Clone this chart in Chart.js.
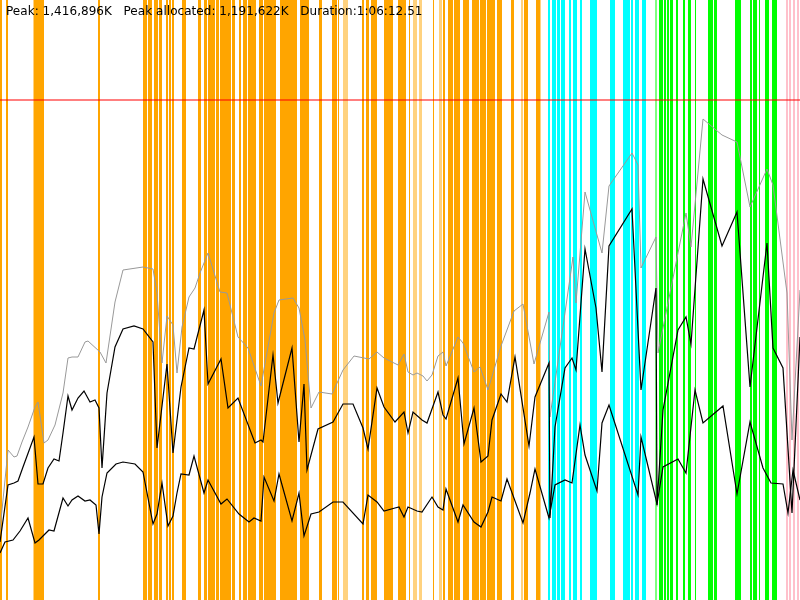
<!DOCTYPE html>
<html>
<head>
<meta charset="utf-8">
<script src="https://cdn.jsdelivr.net/npm/chart.js@4/dist/chart.umd.min.js"></script>
<style>
  body { margin: 0; background: #fff; }
  #wrap { position: relative; width: 800px; height: 600px; }
  #stats {
    position: absolute; left: 6px; top: 4px;
    font: 12px "DejaVu Sans", sans-serif; color: #000;
    white-space: pre; letter-spacing: 0.04px;
  }
</style>
</head>
<body>
<div id="wrap">
  <canvas id="chart" width="800" height="600"></canvas>
  <div id="stats">Peak: 1,416,896K   Peak allocated: 1,191,622K   Duration:1:06:12.51</div>
</div>
<script>
// time runs 0..800, memory level 0..600
const heapSize = [[0,70],[8,150],[14,143],[17,144],[22,158],[28,173],[35,193],[38,198],[44,157],[48,160],[55,175],[63,207],[68,242],[72,243],[78,243],[85,258],[88,259],[100,248],[106,237],[115,298],[123,330],[143,333],[153,331],[157,307],[162,237],[167,284],[173,275],[177,227],[182,273],[189,303],[195,312],[200,327],[208,347],[220,308],[227,307],[238,263],[248,252],[261,214],[274,287],[279,300],[293,302],[299,292],[305,260],[311,192],[319,208],[332,206],[343,230],[354,244],[369,241],[377,248],[384,242],[398,235],[404,246],[408,228],[413,225],[417,227],[423,224],[427,219],[432,225],[438,244],[443,248],[446,234],[458,263],[463,257],[474,228],[480,233],[488,210],[501,254],[514,289],[523,296],[534,236],[549,288],[550,183],[573,343],[576,297],[585,408],[602,347],[609,414],[632,447],[638,435],[641,332],[656,363],[658,247],[686,387],[691,353],[703,481],[722,465],[737,458],[750,393],[767,431],[773,415],[787,307],[792,160],[800,310]];

const allocated = [[0,58],[8,115],[14,117],[18,119],[23,133],[34,163],[38,116],[43,116],[48,132],[54,141],[59,139],[63,167],[68,204],[72,190],[78,202],[84,209],[90,198],[95,200],[99,192],[102,132],[107,207],[115,253],[123,271],[134,274],[143,271],[153,258],[157,152],[167,236],[173,147],[181,213],[189,252],[194,251],[204,290],[208,216],[221,241],[228,192],[238,202],[255,157],[261,160],[263,158],[273,245],[278,197],[292,252],[299,158],[304,216],[307,130],[318,171],[333,178],[343,196],[353,196],[363,172],[368,151],[377,212],[384,193],[395,178],[404,188],[408,167],[413,188],[422,180],[427,177],[438,208],[443,185],[446,181],[458,222],[464,156],[474,192],[481,138],[488,144],[492,180],[501,206],[507,198],[515,243],[529,154],[535,203],[549,237],[550,82],[555,173],[565,232],[572,242],[576,230],[585,351],[596,292],[602,228],[609,354],[632,391],[641,210],[656,312],[657,95],[663,190],[678,270],[686,283],[691,256],[703,421],[722,354],[737,388],[750,213],[767,357],[773,252],[783,232],[792,87],[800,263]];

const live = [[0,47],[5,58],[13,60],[20,69],[28,82],[35,57],[39,60],[49,70],[54,69],[63,102],[68,94],[72,100],[78,104],[85,99],[90,100],[96,95],[99,66],[102,103],[107,127],[116,136],[123,138],[135,136],[143,128],[153,76],[157,86],[162,117],[168,74],[173,84],[177,107],[181,126],[189,125],[194,144],[204,107],[208,120],[221,96],[227,101],[239,86],[249,78],[254,82],[261,79],[264,123],[274,99],[279,126],[292,79],[299,107],[304,64],[311,86],[319,88],[333,98],[343,98],[363,76],[368,105],[377,98],[384,89],[395,92],[399,93],[404,83],[408,93],[417,89],[422,88],[432,103],[438,93],[443,90],[446,111],[458,78],[463,95],[474,78],[481,73],[488,88],[492,103],[501,99],[507,121],[523,77],[530,107],[535,131],[549,82],[555,115],[565,120],[572,117],[580,175],[585,145],[597,109],[602,177],[609,195],[638,105],[641,163],[657,96],[663,133],[678,141],[686,127],[695,210],[703,177],[723,194],[737,106],[750,178],[763,132],[771,117],[783,116],[788,87],[793,130],[800,100]];

const limitLevel = 500;

// phases along the time axis, [start, end)
const orangeSpans = [[0,2],[6,8],[34,44],[98,100],[143,147],[148,152],[154,158],[159,162],[166,168],[169,171],[172,174],[182,186],[198,201],[204,207],[208,215],[216,219],[220,231],[232,235],[239,241],[243,247],[248,256],[259,263],[264,276],[280,297],[300,309],[319,322],[332,337],[338,339],[362,364],[366,369],[371,377],[384,393],[398,406],[409,410],[433,434],[443,445],[448,453],[454,460],[463,469],[472,479],[480,486],[487,495],[497,502],[511,514],[524,528],[536,540]];
const orangeFaintSpans = [[33,34],[343,348],[413,417],[419,422],[439,442],[521,523],[540,541]];
const cyanSpans = [[548,550],[552,556],[557,560],[560.5,562.5],[563,564.5],[569,571],[573,577],[580,582],[590,597],[610,615],[623,630],[631,633],[635,639],[642,646]];
const greenSpans = [[659,663],[663.5,666],[666.5,669],[669.5,673],[676,678],[683,685],[688,691],[695,696],[708,713],[714,717],[735,741],[750,752],[753,757],[759,760],[765,769],[772,777]];
const greenFaintSpans = [[655,657]];
const pinkSpans = [[786,788],[789,791],[793,795],[797,799]];

const toPoints = arr => arr.map(p => ({ x: p[0], y: p[1] }));

const bands = [
  { spans: orangeSpans, color: '#ffa500' },
  { spans: orangeFaintSpans, color: 'rgba(255,165,0,0.5)' },
  { spans: cyanSpans, color: '#00ffff' },
  { spans: greenSpans, color: '#00ff00' },
  { spans: greenFaintSpans, color: 'rgba(0,255,0,0.5)' },
  { spans: pinkSpans, color: '#ffc0cb' },
];

const phaseBands = {
  id: 'phaseBands',
  beforeDatasetsDraw(chart) {
    const { ctx, chartArea, scales } = chart;
    ctx.save();
    bands.forEach(b => {
      ctx.fillStyle = b.color;
      b.spans.forEach(s => {
        const x0 = Math.round(scales.x.getPixelForValue(s[0]));
        const x1 = Math.round(scales.x.getPixelForValue(s[1]));
        ctx.fillRect(x0, chartArea.top, Math.max(1, x1 - x0), chartArea.bottom - chartArea.top);
      });
    });
    ctx.restore();
  }
};

new Chart(document.getElementById('chart'), {
  type: 'line',
  data: {
    datasets: [
      {
        data: toPoints(live),
        borderColor: '#000',
        borderWidth: 1.2,
      },
      {
        data: toPoints(allocated),
        borderColor: '#000',
        borderWidth: 1.2,
      },
      {
        data: toPoints(heapSize),
        borderColor: '#999999',
        borderWidth: 1,
      },
      {
        data: [{ x: 0, y: limitLevel }, { x: 800, y: limitLevel }],
        borderColor: 'rgba(255,0,0,0.5)',
        borderWidth: 2,
      },
    ],
  },
  options: {
    responsive: false,
    animation: false,
    layout: { padding: 0 },
    elements: { point: { radius: 0 }, line: { tension: 0 } },
    plugins: { legend: { display: false }, tooltip: { enabled: false } },
    scales: {
      x: { type: 'linear', min: 0, max: 800, display: false },
      y: { type: 'linear', min: 0, max: 600, display: false },
    },
  },
  plugins: [phaseBands],
});
</script>
</body>
</html>
